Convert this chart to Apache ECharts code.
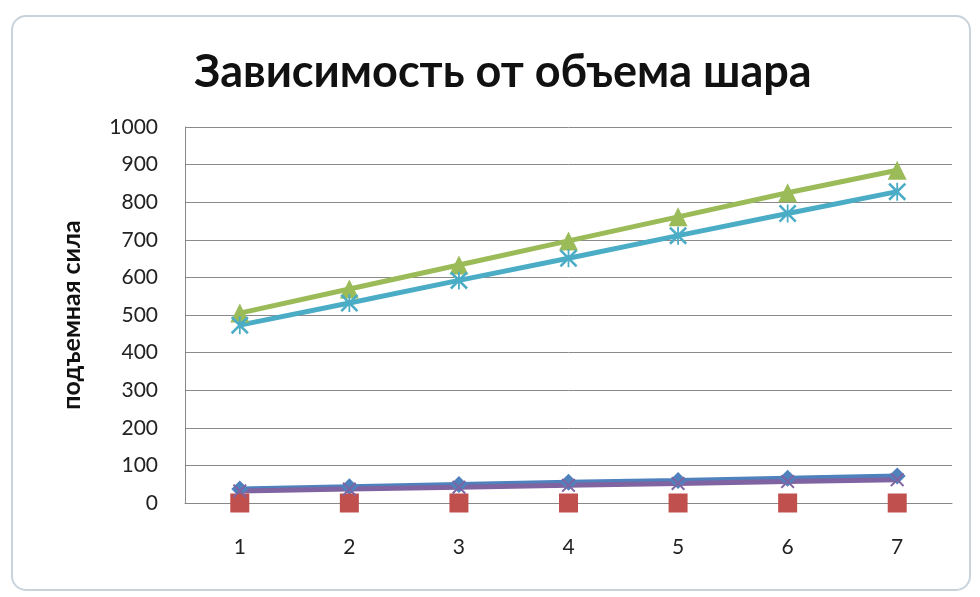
<!DOCTYPE html>
<html><head><meta charset="utf-8">
<script src="https://cdn.jsdelivr.net/npm/echarts@6/dist/echarts.min.js"></script>
<style>html,body{margin:0;padding:0;background:#fff}#c{width:980px;height:597px}</style>
</head><body><div id="c"></div>
<script>
const categories = ['1','2','3','4','5','6','7'];
const seriesNames = ['Ряд1','Ряд2','Ряд3','Ряд4','Ряд5'];
const s1 = [37, 43, 49, 55, 60, 66, 72];
const s2 = [0, 0, 0, 0, 0, 0, 0];
const s3 = [505, 569, 633, 697, 761, 825, 885];
const s4 = [32, 37, 42, 47, 52, 57, 62];
const s5 = [473, 532, 592, 651, 711, 770, 828];
const yTicks = [0,100,200,300,400,500,600,700,800,900,1000];

const X = 'path://M1,0 L5,4 L9,0 L10,1 L6,5 L10,9 L9,10 L5,6 L1,10 L0,9 L4,5 L0,1 Z';
const AST = 'path://M1,0 L5,4 L9,0 L10,1 L6,5 L10,9 L9,10 L5,6 L1,10 L0,9 L4,5 L0,1 Z M4.5,0 L5.5,0 L5.5,10 L4.5,10 Z';

const chart = echarts.init(document.getElementById('c'));
const font = 'Lato, "Noto Sans", sans-serif';
function mk(name, data, color, symbol, size, lineW){
  return {name, type:'line', data, symbol, symbolSize:size, showSymbol:true,
    lineStyle:{color, width:lineW, opacity: lineW ? 1 : 0}, itemStyle:{color}, z:2, animation:false};
}
chart.setOption({
  animation:false,
  graphic:[
    {type:'rect', shape:{x:12,y:16,width:958,height:574,r:14}, style:{fill:'#fff', stroke:'#c9d3dc', lineWidth:2}, z:-10}
  ],
  title:{text:'Зависимость от объема шара', left:498, top:45, textAlign:'center',
    textStyle:{fontFamily:font, fontWeight:'bold', fontSize:45, color:'#111'}},
  grid:{left:185, right:28, top:127, bottom:94},
  xAxis:{type:'category', data:categories, boundaryGap:true,
    axisLine:{lineStyle:{color:'#888'}}, axisTick:{show:false},
    axisLabel:{fontFamily:font, fontSize:21, color:'#222', margin:34}},
  yAxis:{type:'value', min:yTicks[0], max:yTicks[yTicks.length-1], interval:100,
    name:'подъемная сила', nameLocation:'middle', nameGap:101, nameRotate:90,
    nameTextStyle:{fontFamily:font, fontWeight:'bold', fontSize:25, color:'#111'},
    axisLine:{show:true, lineStyle:{color:'#888'}}, axisTick:{show:false},
    splitLine:{lineStyle:{color:'#8a8a8a', width:1}},
    axisLabel:{fontFamily:font, fontSize:21, color:'#222', margin:27, formatter: v => String(v)}},
  series:[
    mk(seriesNames[0], s1, '#4F81BD', 'diamond', 17, 5),
    mk(seriesNames[1], s2, '#C0504D', 'rect', 19, 0),
    mk(seriesNames[2], s3, '#9BBB59', 'triangle', 19, 5),
    mk(seriesNames[3], s4, '#8064A2', X, 14, 5),
    mk(seriesNames[4], s5, '#4BACC6', AST, 18, 5)
  ]
});
</script></body></html>
